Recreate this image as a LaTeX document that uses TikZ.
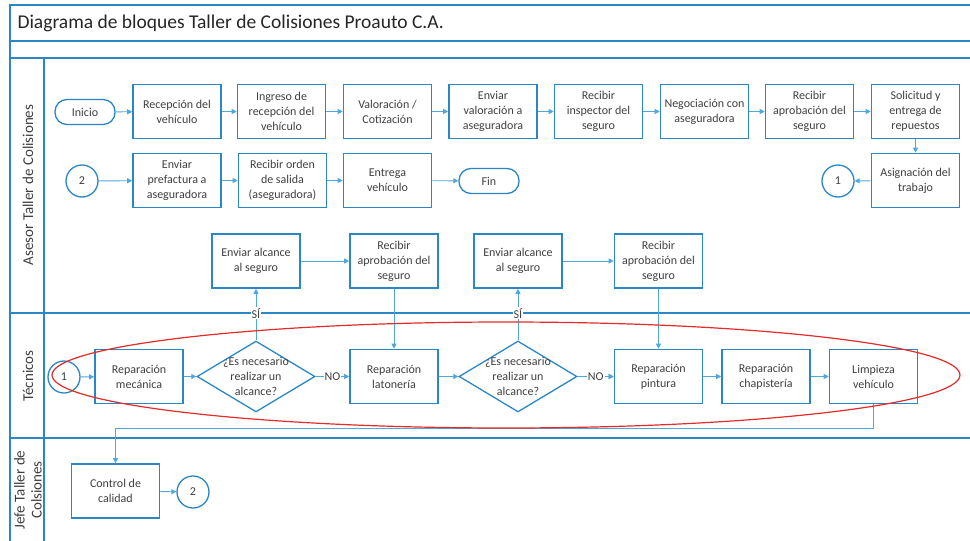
\documentclass[tikz,border=0pt]{standalone}
\usepackage{fontspec}
\setmainfont{Carlito}
\usepackage{xcolor}
\usepackage{tikz}
\usetikzlibrary{arrows.meta,shapes.geometric}

\definecolor{laneblue}{HTML}{2B86C5}
\definecolor{flowblue}{HTML}{4FA7DD}
\definecolor{txtgray}{HTML}{404040}
\definecolor{markred}{HTML}{E42A2A}

\tikzset{
	blk/.style={draw=laneblue, line width=1.6pt, minimum width=88pt, minimum height=54pt,
		inner sep=0pt, align=center, text=txtgray, font=\fontsize{12}{15}\selectfont},
	term/.style={draw=laneblue, line width=1.3pt, rounded corners=12pt, minimum width=60pt,
		minimum height=25pt, inner sep=0pt, text=txtgray, font=\fontsize{12}{15}\selectfont},
	conn/.style={circle, draw=laneblue, line width=1.3pt, minimum size=32pt, inner sep=0pt,
		text=txtgray, font=\fontsize{12}{15}\selectfont},
	dec/.style={diamond, draw=laneblue, line width=1.3pt, minimum width=118pt, minimum height=71pt,
		inner sep=0pt},
	dectxt/.style={align=center, text=txtgray, font=\fontsize{12}{15}\selectfont},
	flow/.style={draw=flowblue, line width=0.9pt, -{Triangle[length=5pt,width=5pt]}},
	lane/.style={draw=laneblue, line width=1.6pt},
	lbl/.style={fill=white, inner sep=1pt, text=txtgray, font=\fontsize{12}{14}\selectfont},
	lanetxt/.style={rotate=90, align=center, text=txtgray, font=\fontsize{15}{17}\selectfont}
}

\begin{document}
\begin{tikzpicture}[x=1pt,y=-1pt]
	\useasboundingbox (0,0) rectangle (970,541);
	\fill[white] (0,0) rectangle (970,541);

	% frame and lanes
	\draw[lane] (975,5) -- (10,5) -- (10,545);
	\draw[lane] (44,58) -- (44,545);
	\foreach \y in {41,58,313,438}{
		\draw[lane] (10,\y) -- (975,\y);
	}
	\node[anchor=west, font=\fontsize{19.5}{22}\selectfont, text=black!85] (title) at (14,23)
		{Diagrama de bloques Taller de Colisiones Proauto C.A.};
	\node[lanetxt] (l1) at (28,185) {Asesor Taller de Colisiones};
	\node[lanetxt] (l2) at (28,376) {Técnicos};
	\node[lanetxt] (l3) at (28,490) {Jefe Taller de\\Colsiones};

	% first row
	\node[term] (ini) at (85,112) {Inicio};
	\foreach \n/\px/\t in
	{r1/177/{Recepción del\\vehículo}, r2/281.5/{Ingreso de\\recepción del\\vehículo},
	 r3/387.5/{Valoración /\\Cotización}, r4/493/{Enviar\\valoración a\\aseguradora},
	 r5/598.5/{Recibir\\inspector del\\seguro}, r6/704.5/{Negociación con\\aseguradora},
	 r7/809.5/{Recibir\\aprobación del\\seguro}, r8/915.5/{Solicitud y\\entrega de\\repuestos}}{
		\node[blk] (\n) at (\px,111.5) {\t};
	}

	% second row
	\node[conn] (c2a) at (82,181) {2};
	\node[blk] (pf) at (177,180.5) {Enviar\\prefactura a\\aseguradora};
	\node[blk] (ord) at (282.5,180.5) {Recibir orden\\de salida\\(aseguradora)};
	\node[blk] (ent) at (387.5,180.5) {Entrega\\vehículo};
	\node[term] (fin) at (489,181) {Fin};
	\node[blk] (asig) at (915.5,180.5) {Asignación del\\trabajo};
	\node[conn] (c1a) at (838,181) {1};

	% third row (alcances)
	\node[blk] (ea1) at (256,261) {Enviar alcance\\al seguro};
	\node[blk] (ra1) at (394,261) {Recibir\\aprobación del\\seguro};
	\node[blk] (ea2) at (518,261) {Enviar alcance\\al seguro};
	\node[blk] (ra2) at (658.5,261) {Recibir\\aprobación del\\seguro};

	% tecnicos
	\node[conn] (c1b) at (64,377) {1};
	\node[blk] (mec) at (139,376.5) {Reparación\\mecánica};
	\node[dec, label={[dectxt]center:{¿Es necesario\\realizar un\\alcance?}}] (d1) at (256,376.5) {};
	\node[blk] (lat) at (394,376.5) {Reparación\\latonería};
	\node[dec, label={[dectxt]center:{¿Es necesario\\realizar un\\alcance?}}] (d2) at (518,376.5) {};
	\node[blk] (pin) at (658.5,376.5) {Reparación\\pintura};
	\node[blk] (cha) at (766,376.5) {Reparación\\chapistería};
	\node[blk] (lim) at (873.5,376.5) {Limpieza\\vehículo};

	% jefe
	\node[blk] (cc) at (115.5,491) {Control de\\calidad};
	\node[conn] (c2b) at (193,492) {2};
	\coordinate (ret) at (115.5,428);

	\foreach \a/\b in
	{ini/r1, r1/r2, r2/r3, r3/r4, r4/r5, r5/r6, r6/r7, r7/r8, r8/asig, asig/c1a,
	 c2a/pf, pf/ord, ord/ent, ent/fin, ea1/ra1, ea2/ra2, ra1/lat, ra2/pin,
	 c1b/mec, mec/d1, d2/pin, pin/cha, cha/lim, cc/c2b}{
		\draw[flow] (\a)--(\b);
	}
	\draw[flow] (d1.east) -- node[lbl] (no1) {NO} (lat.west);
	\draw[flow] (lat.east) -- (d2.west);
	\draw[flow] (d2.east) -- node[lbl] (no2) {NO} (pin.west);
	\draw[flow] (d1.north) -- node[lbl, pos=0.53] (si1) {SÍ} (ea1.south);
	\draw[flow] (d2.north) -- node[lbl, pos=0.53] (si2) {SÍ} (ea2.south);
	\draw[flow] (lim.south) |- (ret) -- (cc.north);

	% red mark round the technicians row
	\draw[markred, line width=1.2pt] (506,375) ellipse [x radius=454, y radius=53];
\end{tikzpicture}
\end{document}
